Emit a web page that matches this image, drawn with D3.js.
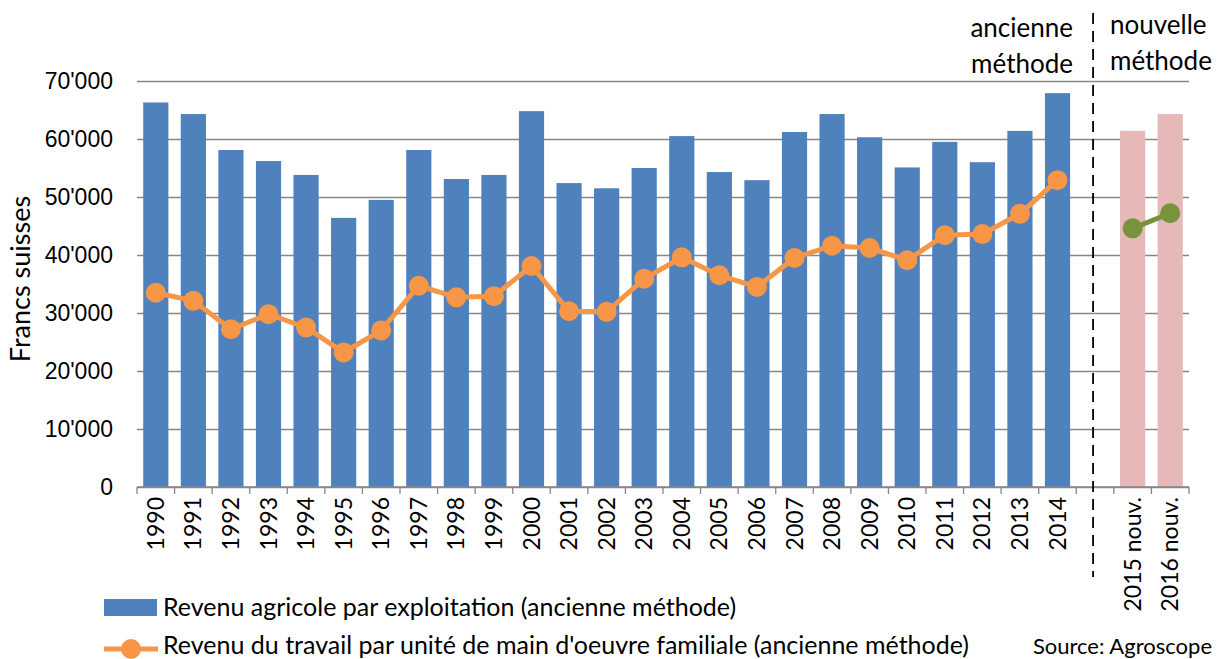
<!DOCTYPE html>
<meta charset="utf-8">
<style>
body { margin: 0; background: #fff; }
svg { font-family: Lato, "Open Sans", sans-serif; }
.grid line { stroke: #878787; stroke-width: 1.3px; }
.grid path { display: none; }
.ylab text { font-size: 23px; fill: #000; }
.xaxis text { font-size: 23px; fill: #000; }
.xaxis line, .xaxis path { stroke: #878787; stroke-width: 1.3px; }
.legend text { font-size: 25px; fill: #000; }
</style>
<svg width="1219" height="659"></svg>
<script src="https://cdn.jsdelivr.net/npm/d3@7"></script>
<script>
// years and values
var categories = ["1990","1991","1992","1993","1994","1995","1996","1997","1998","1999",
                  "2000","2001","2002","2003","2004","2005","2006","2007","2008","2009",
                  "2010","2011","2012","2013","2014"," ","2015 nouv.","2016 nouv."];
var oldYears = categories.slice(0, 25);
var newYears = ["2015 nouv.", "2016 nouv."];

var revenuOld = [66300, 64300, 58100, 56200, 53800, 46400, 49500, 58100, 53100, 53800,
                 64800, 52400, 51500, 55000, 60500, 54300, 52900, 61200, 64300, 60300,
                 55100, 59500, 56000, 61400, 67900];
var revenuNew = [61400, 64300];
var travailOld = [33500, 32100, 27200, 29800, 27500, 23200, 27000, 34700, 32700, 32900,
                  38100, 30300, 30200, 35900, 39600, 36500, 34500, 39500, 41600, 41200,
                  39100, 43400, 43600, 47100, 52900];
var travailNew = [44600, 47200];
var yTicks = [0, 10000, 20000, 30000, 40000, 50000, 60000, 70000];

var svg = d3.select("svg");
var margin = {left: 137, right: 30, top: 81, bottom: 172};
var width = 1219 - margin.left - margin.right,
    height = 659 - margin.top - margin.bottom;
var g = svg.append("g").attr("transform", "translate(" + margin.left + "," + margin.top + ")");

var x = d3.scaleBand().domain(categories).range([0, width]).paddingInner(0.33).paddingOuter(0.165);
var xs = d3.scaleBand().domain(categories).range([0, width]); // full slots for ticks
var y = d3.scaleLinear().domain([0, 70000]).range([height, 0]);

var locale = d3.formatLocale({decimal: ".", thousands: "'", grouping: [3], currency: ["", ""]});
var fmt = locale.format(",");

// gridlines
g.append("g").attr("class", "grid")
    .call(d3.axisLeft(y).tickValues(yTicks).tickSize(-width).tickFormat(""));

g.append("g").attr("class", "ylab")
    .call(d3.axisLeft(y).tickValues(yTicks).tickSize(0).tickPadding(24).tickFormat(fmt))
    .call(function(s) { s.select(".domain").remove(); });

// bars
g.selectAll(".bar-old").data(oldYears).enter().append("rect")
    .attr("x", function(d) { return x(d); })
    .attr("width", x.bandwidth())
    .attr("y", function(d, i) { return y(revenuOld[i]); })
    .attr("height", function(d, i) { return height - y(revenuOld[i]); })
    .attr("fill", "#4F81BD");

g.selectAll(".bar-new").data(newYears).enter().append("rect")
    .attr("x", function(d) { return x(d); })
    .attr("width", x.bandwidth())
    .attr("y", function(d, i) { return y(revenuNew[i]); })
    .attr("height", function(d, i) { return height - y(revenuNew[i]); })
    .attr("fill", "#E6B9B8");

// x axis with ticks on category boundaries
var xa = g.append("g").attr("class", "xaxis").attr("transform", "translate(0," + height + ")");
xa.append("line").attr("x1", 0).attr("x2", width);
xa.selectAll(".tk").data(categories.concat(["end"])).enter().append("line")
    .attr("x1", function(d, i) { return i * xs.step(); })
    .attr("x2", function(d, i) { return i * xs.step(); })
    .attr("y1", 0).attr("y2", 7);
xa.selectAll("text").data(categories).enter().append("text")
    .attr("transform", function(d) { return "translate(" + (xs(d) + xs.bandwidth() / 2 + 8) + ",10) rotate(-90)"; })
    .attr("text-anchor", "end")
    .text(function(d) { return d; });

// dashed separator
var sep = xs(" ") + xs.bandwidth() / 2 - 2;
g.append("line")
    .attr("x1", sep).attr("x2", sep)
    .attr("y1", -68).attr("y2", height + 90)
    .attr("stroke", "#000").attr("stroke-width", 1.8)
    .attr("stroke-dasharray", "11,7");

// lines
var cx = function(d) { return x(d) + x.bandwidth() / 2; };
var line = d3.line().x(function(d) { return cx(d[0]); }).y(function(d) { return y(d[1]); });

var oldPts = oldYears.map(function(d, i) { return [d, travailOld[i]]; });
var newPts = newYears.map(function(d, i) { return [d, travailNew[i]]; });

g.append("path").datum(oldPts).attr("d", line)
    .attr("fill", "none").attr("stroke", "#F79646").attr("stroke-width", 5);
g.selectAll(".dot-old").data(oldPts).enter().append("circle")
    .attr("cx", function(d) { return cx(d[0]); })
    .attr("cy", function(d) { return y(d[1]); })
    .attr("r", 10).attr("fill", "#F79646");

g.append("path").datum(newPts).attr("d", line)
    .attr("fill", "none").attr("stroke", "#77933C").attr("stroke-width", 5);
g.selectAll(".dot-new").data(newPts).enter().append("circle")
    .attr("cx", function(d) { return cx(d[0]); })
    .attr("cy", function(d) { return y(d[1]); })
    .attr("r", 10).attr("fill", "#77933C");

// method labels
var ml = svg.append("g").style("font-size", "26px");
ml.append("text").attr("x", 1073).attr("y", 37).attr("text-anchor", "end").text("ancienne");
ml.append("text").attr("x", 1073).attr("y", 73).attr("text-anchor", "end").text("méthode");
ml.append("text").attr("x", 1110).attr("y", 34).text("nouvelle");
ml.append("text").attr("x", 1110).attr("y", 70).text("méthode");

// y title
svg.append("text")
    .attr("transform", "translate(30,279) rotate(-90)")
    .attr("text-anchor", "middle")
    .style("font-size", "27px")
    .text("Francs suisses");

// legend
var lg = svg.append("g").attr("class", "legend");
lg.append("rect").attr("x", 104).attr("y", 599).attr("width", 53).attr("height", 17).attr("fill", "#4F81BD");
lg.append("text").attr("x", 163).attr("y", 616).text("Revenu agricole par exploitation (ancienne méthode)");
lg.append("line").attr("x1", 104).attr("x2", 158).attr("y1", 649).attr("y2", 649)
    .attr("stroke", "#F79646").attr("stroke-width", 5);
lg.append("circle").attr("cx", 131).attr("cy", 649).attr("r", 10).attr("fill", "#F79646");
lg.append("text").attr("x", 163).attr("y", 654).text("Revenu du travail par unité de main d'oeuvre familiale (ancienne méthode)");

svg.append("text").attr("x", 1212).attr("y", 654).attr("text-anchor", "end")
    .style("font-size", "22px").text("Source: Agroscope");
</script>
